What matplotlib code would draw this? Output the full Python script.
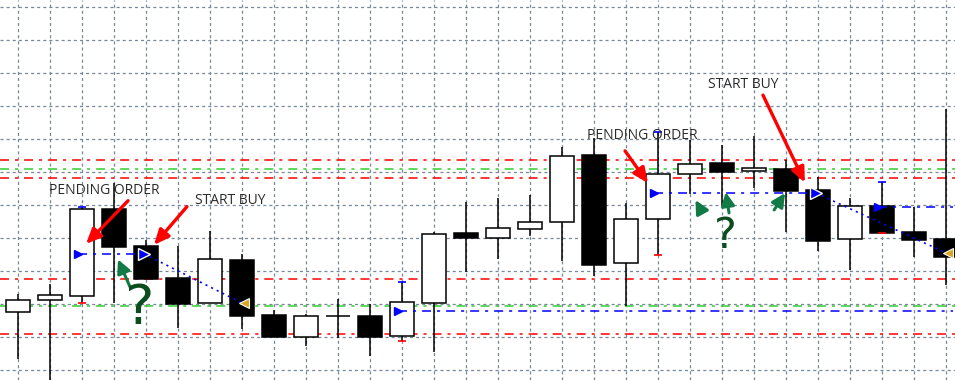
import numpy as np
import matplotlib
matplotlib.use("Agg")
import matplotlib.pyplot as plt

plt.rcParams['lines.scale_dashes'] = False

# candle data (one bar per grid column)
opens = [1.30075, 1.30111, 1.30123, 1.30387, 1.30276, 1.30179, 1.30104, 1.30233, 1.30067, 1.30001,
         1.30063, 1.30064, 1.30004, 1.30104, 1.30314, 1.30301, 1.30328, 1.30348, 1.30552, 1.30223,
         1.30357, 1.30493, 1.30526, 1.30502, 1.30508, 1.30445, 1.30296, 1.30397, 1.30317, 1.30297]
highs = [1.30129, 1.30161, 1.30395, 1.30467, 1.30295, 1.30277, 1.30321, 1.30252, 1.30082, 1.30070,
         1.30114, 1.30100, 1.30168, 1.30318, 1.30408, 1.30422, 1.30429, 1.30577, 1.30602, 1.30405,
         1.30621, 1.30597, 1.30582, 1.30609, 1.30536, 1.30486, 1.30422, 1.30469, 1.30395, 1.30691]
lows = [1.29932, 1.29855, 1.30102, 1.30102, 1.30176, 1.30026, 1.30104, 1.30023, 1.30001, 1.29973,
        1.29998, 1.29942, 1.29987, 1.29954, 1.30198, 1.30236, 1.30306, 1.30231, 1.30186, 1.30095,
        1.30248, 1.30433, 1.30397, 1.30451, 1.30319, 1.30262, 1.30203, 1.30316, 1.30243, 1.30158]
closes = [1.30112, 1.30126, 1.30387, 1.30274, 1.30176, 1.30100, 1.30235, 1.30065, 1.30001, 1.30063,
          1.30063, 1.30001, 1.30105, 1.30311, 1.30301, 1.30329, 1.30348, 1.30548, 1.30219, 1.30357,
          1.30493, 1.30525, 1.30501, 1.30511, 1.30443, 1.30292, 1.30397, 1.30316, 1.30295, 1.30241]

# horizontal levels
red_levels = [1.30535, 1.30481, 1.30175, 1.30008]
green_levels = [1.30508, 1.30095]

# orders: bar index where placed, open price, tp (blue tick), sl (red tick)
order_bars = [2, 12, 20, 27]
order_tp = [1.30395, 1.30168, 1.30621, 1.30469]
order_sl = [1.30102, 1.29987, 1.30248, 1.30316]
order_price = [1.30252, 1.30079, 1.30436, 1.30394]
fill_bars = [4, None, 25, None]
close_bars = [7, None, 29, None]
close_price = [1.30103, None, 1.30255, None]

x = np.arange(len(opens))

fig = plt.figure(figsize=(9.55, 3.80), dpi=100)
ax = fig.add_axes([0, 0, 1, 1])
ax.set_xlim(-18 / 32, 937 / 32)
ax.set_ylim(1.3 - 43 / 33000, 1.3 + 337 / 33000)
for s in ax.spines.values():
    s.set_visible(False)

# grid
ax.set_xticks(x)
ax.set_yticks(np.arange(1.2990, 1.31005, 0.001))
ax.tick_params(length=0, labelbottom=False, labelleft=False)
ax.grid(True, color='#778899', linestyle=(0, (2.2, 2.2)), linewidth=0.9, zorder=0)
ax.set_axisbelow(True)

dashdot = (0, (6.5, 4.3, 2.2, 4.3))
xmin, xmax = ax.get_xlim()
for lv in red_levels:
    ax.hlines(lv, xmin, xmax, color='#ff0000', linestyle=dashdot, linewidth=1.1, zorder=1)
for lv in green_levels:
    ax.hlines(lv, xmin, xmax, color='#32cd32', linestyle=dashdot, linewidth=1.1, zorder=1)

# candles
o = np.array(opens)
c = np.array(closes)
up = c >= o
ax.vlines(x, lows, highs, color='black', linewidth=1.1, zorder=2)
ax.bar(x, np.maximum(np.abs(c - o), 1e-7), bottom=np.minimum(o, c), width=0.75,
       color=np.where(up, 'white', 'black'), edgecolor='black', linewidth=1.1, zorder=3)

# order lines and markers
for i, b in enumerate(order_bars):
    ax.hlines(order_tp[i], b - 0.11, b + 0.11, color='#0000ff', linewidth=1.2, zorder=4)
    ax.hlines(order_sl[i], b - 0.11, b + 0.11, color='#ff0000', linewidth=1.2, zorder=4)
    end = fill_bars[i] if fill_bars[i] is not None else xmax
    ax.hlines(order_price[i], b - 0.12, end - 0.06, color='#0000ff', linestyle=dashdot,
              linewidth=1.1, zorder=4)
    ax.plot(b - 0.12, order_price[i], marker='>', color='#0000ff', markersize=6,
            markeredgecolor='#0000ff', zorder=6)
    if fill_bars[i] is not None:
        fb = fill_bars[i]
        ax.plot(fb - 0.06, order_price[i], marker='>', color='#0000ff', markersize=8,
                markeredgecolor='white', markeredgewidth=1, zorder=6)
        ax.plot([fb - 0.06, close_bars[i]], [order_price[i], close_price[i]], color='#0000ff',
                linestyle=(0, (1.5, 3)), linewidth=1.2, zorder=5)
        ax.plot(close_bars[i] + 0.05, close_price[i], marker='<', color='#daa520', markersize=7,
                markeredgecolor='white', markeredgewidth=0.8, zorder=6)

# annotations
txt = dict(fontsize=10, color='#2a2a2a', family=['Open Sans', 'DejaVu Sans'], va='center', zorder=8)
ax.text(0.97, 1.30445, 'PENDING ORDER', **txt)
ax.text(5.53, 1.30413, 'START BUY', **txt)
ax.text(17.78, 1.30612, 'PENDING ORDER', **txt)
ax.text(21.56, 1.30764, 'START BUY', **txt)

red_arrow = dict(arrowstyle='-|>,head_length=0.9,head_width=0.4', color='#ff0000', lw=2.4,
                 shrinkA=0, shrinkB=0)
ax.annotate('', xy=(2.125, 1.30282), xytext=(3.44, 1.30413), arrowprops=red_arrow, zorder=7)
ax.annotate('', xy=(4.25, 1.30279), xytext=(5.28, 1.30395), arrowprops=red_arrow, zorder=7)
ax.annotate('', xy=(19.69, 1.30466), xytext=(18.97, 1.30564), arrowprops=red_arrow, zorder=7)
ax.annotate('', xy=(24.59, 1.30468), xytext=(23.28, 1.30733), arrowprops=red_arrow, zorder=7)

green_arrow = dict(arrowstyle='-|>,head_length=0.8,head_width=0.4', color='#127a44', lw=2.2,
                   shrinkA=0, shrinkB=0)
ax.annotate('', xy=(3.125, 1.30235), xytext=(3.5, 1.30152), arrowprops=green_arrow, zorder=7)
ax.annotate('', xy=(21.17, 1.30415), xytext=(21.34, 1.30385), arrowprops=green_arrow, zorder=7)
ax.annotate('', xy=(22.12, 1.30439), xytext=(22.22, 1.30376), arrowprops=green_arrow, zorder=7)
ax.annotate('', xy=(23.97, 1.30436), xytext=(23.63, 1.30385), arrowprops=green_arrow, zorder=7)

ax.text(3.81, 1.30085, '?', fontsize=40, color='#0b4d1e', ha='center', va='center',
        fontweight='normal', zorder=8)
ax.text(22.1, 1.30306, '?', fontsize=31, color='#0b4d1e', ha='center', va='center',
        fontweight='normal', zorder=8)

fig.savefig('out.png', dpi=100)
